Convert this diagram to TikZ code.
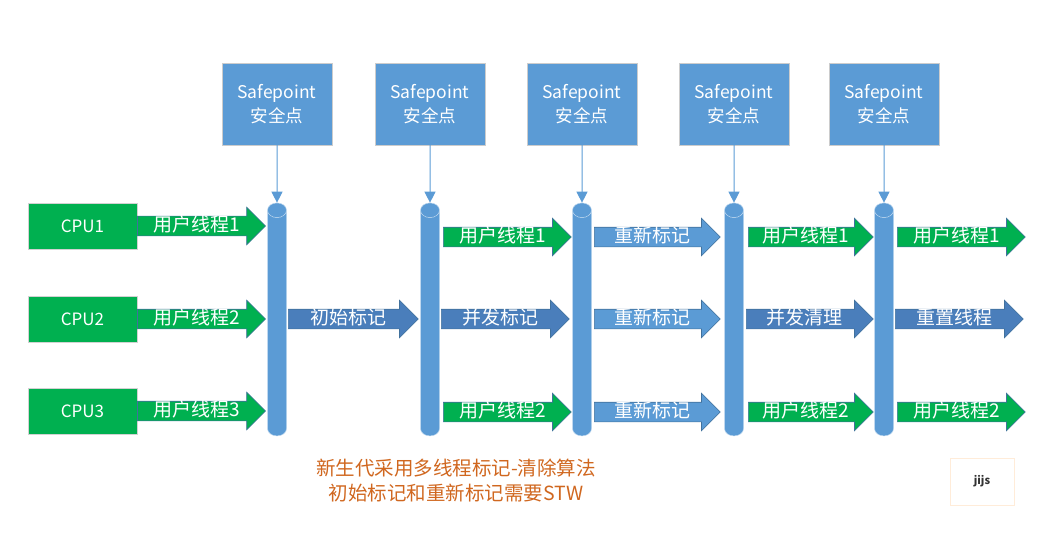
\documentclass[tikz,border=0pt]{standalone}
\usepackage{fontspec}
\setmainfont{Noto Sans CJK SC}
\usetikzlibrary{shapes.arrows,shapes.geometric,arrows.meta}
\definecolor{spblue}{HTML}{5B9BD5}
\definecolor{markblue}{HTML}{4A7EBB}
\definecolor{edgeblue}{HTML}{41719C}
\definecolor{cpugreen}{HTML}{00B050}
\definecolor{noteorange}{HTML}{D0671F}
\tikzset{
  spbox/.style = {fill=spblue, draw=gray!40, minimum width=110pt, minimum height=82pt,
                  align=center, text=white, font=\fontsize{17.5}{24}\selectfont},
  cpubox/.style = {fill=cpugreen, draw=gray!35, minimum width=109pt, minimum height=46pt,
                   text=white, font=\fontsize{17}{20}\selectfont},
  bar/.style = {cylinder, shape border rotate=90, aspect=2.2, minimum width=19pt,
                minimum height=233pt, draw=white!60!spblue, line width=0.5pt,
                cylinder uses custom fill, cylinder body fill=spblue, cylinder end fill=spblue},
  blockarrow/.style = {single arrow, anchor=tail, minimum height=128pt,
                       text height=14pt, text depth=3pt, inner ysep=1pt, inner xsep=2pt,
                       single arrow head extend=9pt, single arrow tip angle=90,
                       line width=0.6pt, text=white, font=\fontsize{19}{20}\selectfont},
  userarrow/.style = {blockarrow, fill=cpugreen, draw=edgeblue},
  markarrow/.style = {blockarrow, fill=markblue, draw=edgeblue},
  remarkarrow/.style = {blockarrow, fill=spblue, draw=edgeblue},
  sparrow/.style = {draw=spblue, line width=1pt, -{Triangle[width=11pt,length=11pt]}}
}
\begin{document}
\begin{tikzpicture}[x=1pt, y=-1pt]
  \useasboundingbox (0,0) rectangle (1049,540);
  % safepoints and bars
  \foreach \n/\x in {1/277, 2/430, 3/582, 4/734, 5/884} {
    \node[spbox] (sp\n) at (\x,104) {Safepoint\\安全点};
    \node[bar] (bar\n) at (\x,326) {};
    \draw[sparrow] (sp\n) -- (bar\n.north);
  }
  % cpus
  \node[cpubox] (cpu1) at (82.5,226) {CPU1};
  \node[cpubox] (cpu2) at (82.5,319) {CPU2};
  \node[cpubox] (cpu3) at (82.5,411) {CPU3};
  \node[userarrow] (u01) at (cpu1.east) {用户线程1};
  \node[userarrow] (u02) at (cpu2.east) {用户线程2};
  \node[userarrow] (u03) at (cpu3.east) {用户线程3};
  % between the bars
  \node[markarrow, minimum height=130pt] (m12) at (288,319) {初始标记};
  \node[userarrow] (u21) at (443,237) {用户线程1};
  \node[markarrow] (m22) at (441,319) {并发标记};
  \node[userarrow] (u23) at (443,412) {用户线程2};
  \node[remarkarrow, minimum height=126pt] (r31) at (594,237) {重新标记};
  \node[remarkarrow, minimum height=126pt] (r32) at (594,319) {重新标记};
  \node[remarkarrow, minimum height=126pt] (r33) at (594,412) {重新标记};
  \node[userarrow, minimum height=125pt] (u41) at (748,237) {用户线程1};
  \node[markarrow, minimum height=127pt] (m42) at (746,319) {并发清理};
  \node[userarrow, minimum height=125pt] (u43) at (748,412) {用户线程2};
  \node[userarrow] (u51) at (897,237) {用户线程1};
  \node[markarrow] (m52) at (895,319) {重置线程};
  \node[userarrow] (u53) at (897,412) {用户线程2};
  % note
  \node[text=noteorange, align=center, font=\fontsize{19.5}{25}\selectfont] (note) at (456,481)
    {新生代采用多线程标记-清除算法\\初始标记和重新标记需要STW};
  \node[draw=orange!15, fill=white, minimum width=64pt, minimum height=47pt,
        text=black!80, font=\bfseries\fontsize{11}{13}\selectfont] (sign) at (982,481.5) {jijs};
\end{tikzpicture}
\end{document}
